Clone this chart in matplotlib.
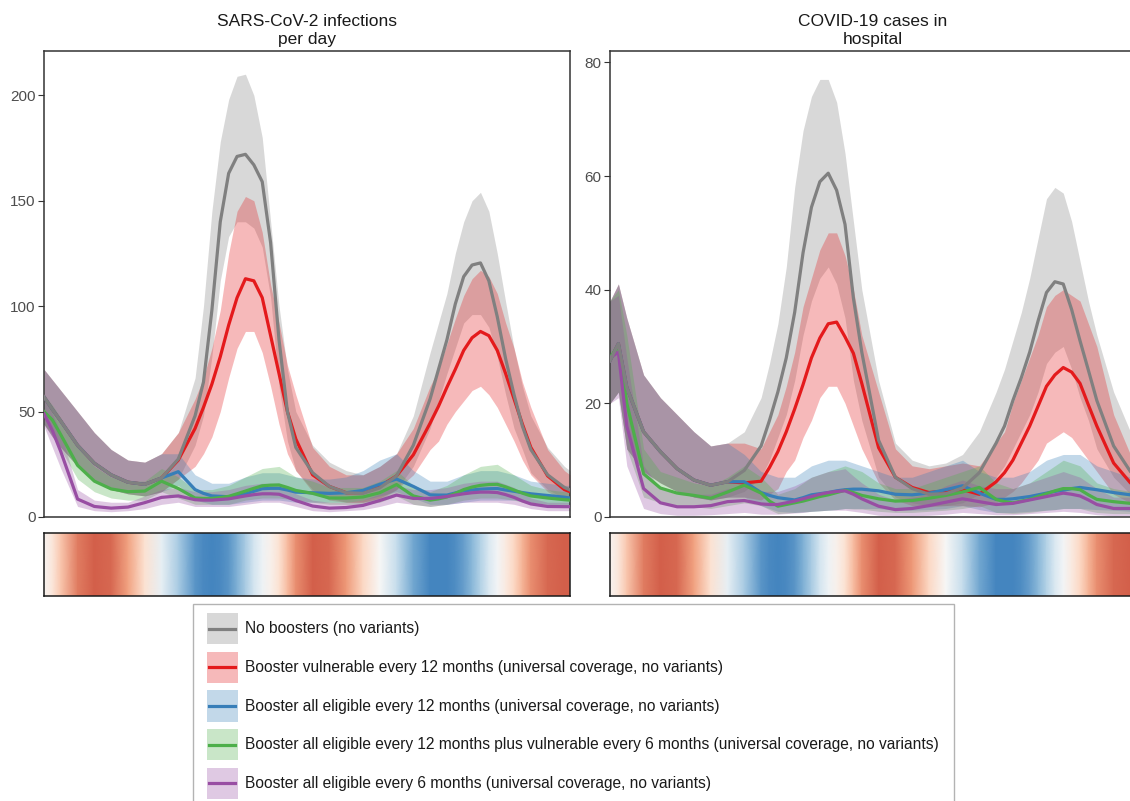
import matplotlib
matplotlib.use('Agg')
import matplotlib.pyplot as plt
from matplotlib.colors import LinearSegmentedColormap
from matplotlib.lines import Line2D
from matplotlib.patches import Rectangle
from matplotlib.legend_handler import HandlerBase

plt.rcParams['font.family'] = ['Liberation Sans', 'DejaVu Sans']

# simulation day (sampled, finer around the two waves)
day = [0, 15, 30, 60, 90, 120, 150, 180, 210, 240,
       270, 285, 300, 315, 330, 345, 360, 375, 390, 405, 420, 435, 450,
       480, 510, 540, 570, 600, 630, 660,
       690, 705, 720, 735, 750, 765, 780, 795, 810, 825, 840, 855, 870,
       900, 930, 940]

# seasonal forcing shown in the strip under each panel (-1 low .. +1 high)
season = [0.05, 0.2, 0.45, 0.85, 1.0, 0.95, 0.65, 0.25, -0.15, -0.55,
          -0.9, -0.97, -1.0, -0.97, -0.9, -0.75, -0.55, -0.33, -0.1, 0.08, 0.25, 0.5, 0.75,
          1.0, 0.95, 0.7, 0.35, 0.0, -0.4, -0.8,
          -1.0, -1.0, -1.0, -0.95, -0.85, -0.7, -0.5, -0.28, -0.05, 0.15, 0.35, 0.55, 0.75,
          0.95, 1.0, 1.0]

# ---- infections per day: median, lower, upper ----
inf_none = [57, 51, 45.5, 34, 25.5, 20, 16.5, 15.5, 18.5, 27.5,
            48, 64, 98, 140, 163, 171, 172, 167, 159, 130, 84, 50, 33,
            21, 14.5, 11.5, 11.2, 13.8, 19.5, 34,
            56, 70, 84, 101, 114, 119.5, 120.5, 112, 95, 75, 58, 43, 32,
            20, 14, 12.8]
inf_none_lo = [44, 38, 33, 24, 17, 13, 11, 10, 12, 18,
               34, 48, 76, 112, 133, 140, 140, 137, 128, 104, 62, 36, 22,
               13, 9, 7, 7, 8, 13, 24,
               42, 55, 68, 80, 92, 96, 96, 90, 76, 58, 42, 32, 21,
               13, 9, 8]
inf_none_hi = [70, 65, 60, 50, 40, 32, 27, 26, 30, 40,
               66, 100, 145, 178, 198, 209, 210, 200, 180, 140, 100, 70, 50,
               34, 26, 22, 20, 24, 30, 48,
               78, 92, 106, 125, 140, 150, 154, 145, 125, 102, 80, 62, 48,
               33, 24, 22]

inf_vul12 = [57, 51, 45.5, 34, 25.5, 20, 16.5, 15.5, 18.5, 27,
             42, 52, 63, 76, 91, 104, 113, 112, 104, 86, 68, 50, 37,
             20, 14.5, 11.5, 11.5, 14.5, 19.5, 29.5,
             44.5, 52.5, 61.5, 70, 79, 85, 88, 86, 79, 68, 56, 44, 33,
             19.5, 13, 12]
inf_vul12_lo = [44, 38, 33, 24, 17, 13, 11, 10, 12, 18,
                24, 30, 38, 50, 66, 80, 88, 88, 78, 62, 44, 30, 22,
                12, 8, 7, 7, 9, 13, 20,
                32, 36, 44, 50, 55, 60, 62, 58, 52, 44, 36, 27, 20,
                12, 8, 8]
inf_vul12_hi = [70, 65, 60, 50, 40, 32, 27, 26, 30, 40,
                56, 66, 80, 98, 125, 145, 152, 150, 135, 110, 92, 72, 58,
                33, 24, 20, 20, 24, 30, 42,
                62, 70, 82, 94, 105, 113, 117, 114, 106, 92, 80, 64, 52,
                32, 22, 20]

inf_all12 = [57, 51, 45.5, 34, 25.5, 20, 16.5, 15.5, 18.5, 21.5,
             13, 11.2, 10, 9.8, 9.6, 10.2, 11, 12.2, 13.4, 13.6, 13.6, 12.8, 11.8,
             11.5, 11.2, 11.5, 12.6, 15.5, 18, 14.5,
             10.5, 10.4, 10.4, 11.4, 12.4, 12.8, 13.2, 13.4, 13.5, 12.8, 12.2, 11.6, 11,
             10.2, 9.4, 9]
inf_all12_lo = [44, 38, 33, 24, 17, 13, 11, 10, 12, 15,
                8, 7, 6, 6, 6, 6.5, 7, 7.5, 8, 8, 8, 7.5, 7,
                7, 7, 7, 8, 10, 12, 9,
                6, 6, 6, 6.5, 7, 7.5, 8, 8, 8, 8, 8, 7.5, 7,
                6, 6, 6]
inf_all12_hi = [70, 65, 60, 50, 40, 32, 27, 26, 30, 30,
                20, 18, 16, 16, 16, 17.5, 19, 20, 21, 21, 21, 20, 19,
                18, 18, 19, 22, 27, 30, 22,
                17, 17, 17, 18.5, 20, 21, 22, 22, 22, 21, 20, 18.5, 17,
                16, 15, 15]

inf_all12_vul6 = [50, 46, 39, 24.5, 17, 13.3, 12, 12.3, 17, 13.5,
                  9, 8.8, 8.8, 9.2, 9.8, 11, 12.3, 13.6, 14.8, 15.1, 15.2, 14, 12.6,
                  11.2, 9, 9, 9.5, 11.5, 15.4, 10,
                  8, 8.6, 9.5, 11.2, 13, 14.2, 15, 15.4, 15.5, 14.3, 12.8, 11.3, 10,
                  9, 8.2, 8]
inf_all12_vul6_lo = [44, 39, 32, 18, 12, 9, 8, 8, 12, 9,
                     6, 6, 6, 6, 6, 7, 8, 8.5, 9, 9, 9, 8.5, 8,
                     7, 6, 6, 6, 7, 10, 6,
                     5, 5.5, 6, 7, 8, 8.5, 9, 9, 9, 8.5, 8, 7, 6,
                     6, 5, 5]
inf_all12_vul6_hi = [58, 53, 47, 33, 24, 19, 17, 17, 23, 19,
                     13, 13, 13, 14, 15, 17, 19, 21, 23, 23.5, 24, 21.5, 19,
                     17, 14, 14, 14, 17, 22, 15,
                     12, 13.5, 15, 17.5, 20, 22, 24, 24.5, 25, 22.5, 20, 17.5, 15,
                     13, 12, 12]

inf_all6 = [49, 41, 31, 8.5, 5, 4.2, 4.7, 6.8, 9.3, 10,
            8.2, 8, 8, 8.3, 8.6, 9.3, 10, 10.6, 11, 11, 10.8, 9.4, 7.8,
            5.2, 4.2, 4.5, 5.5, 7.8, 10.4, 8.8,
            8.8, 9.2, 9.7, 10.4, 11, 11.5, 11.8, 11.8, 11.6, 10.6, 9.3, 7.6, 6.2,
            5, 4.9, 4.9]
inf_all6_lo = [43, 33, 23, 5, 3, 2.5, 3, 4, 6, 7,
               5, 5, 5, 5, 5, 5.5, 6, 6.5, 7, 7, 7, 6, 5,
               3, 2.5, 3, 3.5, 5, 7, 6,
               5, 5.5, 6, 6.5, 7, 7, 7, 7, 7, 6.5, 6, 5, 4,
               3, 3, 3]
inf_all6_hi = [56, 49, 40, 13, 8, 7, 7, 10, 13, 14,
               12, 12, 12, 12.5, 13, 14, 15, 15.5, 16, 16, 16, 13.5, 11,
               8, 7, 7, 8, 11, 15, 13,
               13, 13.5, 14, 15, 16, 16.5, 17, 17, 17, 15.5, 14, 11.5, 9,
               7, 7, 7]

# ---- cases in hospital: median, lower, upper ----
hosp_none = [27.5, 30.5, 22.8, 15, 11.5, 8.5, 6.5, 5.6, 6.2, 8.2,
             12.5, 17, 22, 28, 36, 46.5, 54.5, 59, 60.5, 57.5, 51.5, 38.5, 29,
             13.5, 7, 5, 4, 4.1, 5.1, 7.8,
             13, 16, 20.5, 24.5, 29, 34.5, 39.5, 41.4, 41, 36.5, 31, 25.8, 20.5,
             12.5, 8, 7]
hosp_none_lo = [20, 22, 12, 8, 6, 4.5, 3.5, 3, 3.5, 4.5,
                7, 10, 14, 18, 24, 32, 38, 42, 44, 41, 35, 24, 17,
                7, 3.5, 2.5, 2, 2, 2.5, 4,
                7, 9, 12, 15, 18, 22, 27, 29, 30, 26, 21, 17, 12,
                7, 4, 3.5]
hosp_none_hi = [38, 41, 35, 25, 21, 18, 15, 12.5, 13, 15,
                21, 27, 34, 44, 58, 68, 74, 77, 77, 73, 64, 52, 40,
                24, 13, 10, 9, 9.5, 11, 15,
                22, 26, 31, 36, 42, 49, 56, 58, 57, 52, 45, 38, 32,
                22, 15, 14]

hosp_vul12 = [27.5, 30.5, 22.8, 15, 11.5, 8.5, 6.5, 5.6, 6.2, 6,
              6.3, 8.7, 11.5, 15, 19, 23.3, 28, 31.5, 34, 34.3, 31.7, 28.8, 23.5,
              12.2, 7, 5.2, 4.3, 4.6, 4.8, 4,
              6.2, 7.8, 10, 13, 16, 19.5, 23, 25, 26.3, 25.5, 23.5, 19.7, 16,
              9.5, 6, 5.5]
hosp_vul12_lo = [20, 22, 12, 8, 6, 4.5, 3.5, 3, 3.5, 3.5,
                 3, 4, 5, 8, 10, 14, 17, 21, 23, 23, 20, 16, 12,
                 6, 3, 2, 1.8, 2, 2, 1.8,
                 2.5, 3.5, 4.5, 6, 8, 10, 13, 14, 15, 14, 12, 10, 8,
                 4, 2.5, 2.5]
hosp_vul12_hi = [38, 41, 35, 25, 21, 18, 15, 12.5, 13, 13,
                 12, 15, 18, 23, 29, 37, 42, 47, 50, 50, 46, 40, 32,
                 22, 12, 9, 8.5, 9, 9.5, 9,
                 13, 15, 20, 24, 28, 32, 37, 39, 40, 39, 38, 34, 30,
                 18, 11, 10]

hosp_all12 = [27.5, 30.5, 22.8, 15, 11.5, 8.5, 6.5, 5.6, 6.2, 6.2,
              4.3, 3.8, 3.4, 3.2, 3, 3.4, 3.9, 4.1, 4.3, 4.6, 4.8, 4.9, 4.9,
              4.6, 4, 3.9, 4.2, 4.8, 5.5, 4.2,
              3.1, 3.1, 3.2, 3.4, 3.6, 3.9, 4.2, 4.5, 4.7, 5, 5.2, 5, 4.8,
              4.3, 3.9, 3.8]
hosp_all12_lo = [20, 22, 12, 8, 6, 4.5, 3.5, 3, 3.5, 3.5,
                 2, 1.5, 1, 0.9, 0.8, 0.9, 1, 1.1, 1.2, 1.3, 1.5, 1.5, 1.5,
                 1.5, 1.2, 1.2, 1.3, 1.5, 2, 1.3,
                 0.8, 0.8, 0.8, 0.9, 1, 1.1, 1.2, 1.3, 1.5, 1.5, 1.5, 1.4, 1.3,
                 1.2, 1, 1]
hosp_all12_hi = [38, 41, 35, 25, 21, 18, 15, 12.5, 13, 11,
                 8, 7.5, 7, 7, 7, 8, 9, 9.5, 10, 10, 10, 9.5, 9,
                 8, 7, 7, 8, 9, 10, 8,
                 7, 7, 7, 7.5, 8, 9, 10, 10.5, 11, 11, 11, 10, 9,
                 8, 7, 7]

hosp_all12_vul6 = [28, 30.2, 20, 7.6, 5.1, 4.2, 3.8, 3.3, 4.4, 5.6,
                   4.2, 2.8, 1.9, 2.2, 2.5, 2.8, 3.2, 3.6, 3.9, 4.3, 4.7, 4.3, 3.8,
                   3.2, 2.8, 2.9, 3.3, 3.8, 4.4, 5.2,
                   3.1, 2.7, 2.5, 2.8, 3.1, 3.6, 4.1, 4.6, 5, 5, 4.8, 3.9, 3.1,
                   2.7, 2.4, 2.4]
hosp_all12_vul6_lo = [20, 22, 12, 3.5, 2.5, 2, 1.8, 1.5, 2, 2.5,
                      2, 1.3, 0.6, 0.7, 0.8, 0.9, 1, 1.1, 1.2, 1.3, 1.5, 1.4, 1.4,
                      1, 0.8, 0.8, 1, 1.2, 1.5, 2,
                      0.8, 0.7, 0.6, 0.7, 0.8, 1, 1.2, 1.3, 1.5, 1.5, 1.5, 1.1, 0.8,
                      0.6, 0.6, 0.6]
hosp_all12_vul6_hi = [38, 40, 32, 12, 8, 7, 6, 5.5, 7, 9,
                      7, 5.5, 4, 4.5, 5, 6, 7, 7.5, 8, 8.5, 9, 8.5, 8,
                      6, 5, 5, 6, 7, 8, 9,
                      6, 5.5, 5, 5.5, 6, 7, 8, 9, 10, 9.5, 9, 7.5, 6,
                      5, 4.5, 4.5]

hosp_all6 = [28, 29, 16, 5, 2.5, 1.8, 1.8, 2, 2.7, 2.9,
             2.3, 2.2, 2.2, 2.5, 2.8, 3.2, 3.6, 4, 4.3, 4.5, 4.6, 4, 3.2,
             1.9, 1.3, 1.5, 2, 2.6, 3.2, 2.7,
             2.2, 2.3, 2.4, 2.7, 3, 3.3, 3.6, 3.9, 4.2, 4, 3.7, 3, 2.2,
             1.5, 1.5, 1.5]
hosp_all6_lo = [20, 21, 9, 1.5, 0.6, 0.3, 0.3, 0.4, 0.6, 0.8,
                0.5, 0.5, 0.5, 0.6, 0.7, 0.8, 1, 1.1, 1.2, 1.2, 1.2, 1, 0.8,
                0.3, 0.2, 0.2, 0.3, 0.5, 0.8, 0.6,
                0.4, 0.4, 0.4, 0.5, 0.6, 0.7, 0.8, 0.9, 1, 0.9, 0.8, 0.6, 0.4,
                0.2, 0.2, 0.2]
hosp_all6_hi = [38, 39, 28, 9, 5, 4, 4, 4, 5, 5.5,
                4.5, 4.5, 4.5, 5, 5.5, 6.2, 7, 7.5, 8, 8.2, 8.5, 7.2, 6,
                4, 3, 3.5, 4, 5.5, 6.5, 5.5,
                5, 5, 5, 5.5, 6, 6.5, 7, 7.5, 8, 7.5, 7, 6, 5,
                3.5, 3.5, 3.5]

scenario_labels = [
    'No boosters (no variants)',
    'Booster vulnerable every 12 months (universal coverage, no variants)',
    'Booster all eligible every 12 months (universal coverage, no variants)',
    'Booster all eligible every 12 months plus vulnerable every 6 months (universal coverage, no variants)',
    'Booster all eligible every 6 months (universal coverage, no variants)',
]
scenario_colors = ['#808080', '#E41A1C', '#377EB8', '#4DAF4A', '#984EA3']

season_cmap = LinearSegmentedColormap.from_list(
    'season', ['#4485BF', '#92BEDC', '#D4E5F0', '#F7F7F7', '#FDDBC7', '#F1A07E', '#D35F4A'])

W, H = 1130, 801


class RibbonKey(HandlerBase):
    # pale ribbon square with the median line through its middle
    def create_artists(self, legend, orig_handle, xdescent, ydescent,
                       width, height, fontsize, trans):
        col = orig_handle.get_color()
        box = Rectangle((-xdescent, -ydescent), width, height, facecolor=col,
                        alpha=0.3, edgecolor='none', transform=trans)
        yc = -ydescent + height / 2
        line = Line2D([-xdescent + 0.08 * width, -xdescent + 0.92 * width], [yc, yc],
                      color=col, lw=2.3, transform=trans)
        return [box, line]


def plot_panel(ax, strip_ax, title, series, ymax, yticks):
    # ribbons first, then median lines; the no-booster line sits on top
    for (mid, lo, hi), col in zip(series, scenario_colors):
        ax.fill_between(day, lo, hi, color=col, alpha=0.3, lw=0, zorder=1)
    for i, ((mid, lo, hi), col) in enumerate(zip(series, scenario_colors)):
        ax.plot(day, mid, color=col, lw=2.3, solid_joinstyle='round',
                zorder=6 if i == 0 else 3)
    ax.set_xlim(0, 940)
    ax.set_ylim(0, ymax)
    ax.set_yticks(yticks)
    ax.set_xticks([])
    ax.tick_params(axis='y', direction='out', length=4, width=0.8, color='#333333',
                   labelcolor='#4D4D4D', labelsize=11, pad=2)
    for sp in ax.spines.values():
        sp.set_linewidth(1.1)
        sp.set_color('#333333')
    ax.set_title(title, fontsize=12.5, color='#1A1A1A', pad=5, linespacing=1.25)

    strip_ax.pcolormesh(day, [0, 1], [season, season], cmap=season_cmap,
                        vmin=-1, vmax=1, shading='gouraud')
    strip_ax.set_xlim(0, 940)
    strip_ax.set_ylim(0, 1)
    strip_ax.set_xticks([])
    strip_ax.set_yticks([])
    for sp in strip_ax.spines.values():
        sp.set_linewidth(1.1)
        sp.set_color('#1A1A1A')


fig = plt.figure(figsize=(W / 100, H / 100), dpi=100)

panel_w = 526 / W
ax_bottom, ax_h = 1 - 517 / H, 466 / H
strip_bottom, strip_h = 1 - 596 / H, 63 / H

ax_inf = fig.add_axes([44 / W, ax_bottom, panel_w, ax_h])
strip_inf = fig.add_axes([44 / W, strip_bottom, panel_w, strip_h])
ax_hosp = fig.add_axes([610 / W, ax_bottom, panel_w, ax_h])
strip_hosp = fig.add_axes([610 / W, strip_bottom, panel_w, strip_h])

plot_panel(ax_inf, strip_inf, 'SARS-CoV-2 infections\nper day',
           [(inf_none, inf_none_lo, inf_none_hi),
            (inf_vul12, inf_vul12_lo, inf_vul12_hi),
            (inf_all12, inf_all12_lo, inf_all12_hi),
            (inf_all12_vul6, inf_all12_vul6_lo, inf_all12_vul6_hi),
            (inf_all6, inf_all6_lo, inf_all6_hi)],
           221, [0, 50, 100, 150, 200])

plot_panel(ax_hosp, strip_hosp, 'COVID-19 cases in\nhospital',
           [(hosp_none, hosp_none_lo, hosp_none_hi),
            (hosp_vul12, hosp_vul12_lo, hosp_vul12_hi),
            (hosp_all12, hosp_all12_lo, hosp_all12_hi),
            (hosp_all12_vul6, hosp_all12_vul6_lo, hosp_all12_vul6_hi),
            (hosp_all6, hosp_all6_lo, hosp_all6_hi)],
           82, [0, 20, 40, 60, 80])

handles = [Line2D([], [], color=c) for c in scenario_colors]
fig.legend(handles, scenario_labels, handler_map={Line2D: RibbonKey()},
           loc='upper left', bbox_to_anchor=(207 / W, 1 - 613 / H),
           bbox_transform=fig.transFigure, frameon=False, fontsize=11.2,
           borderpad=0, borderaxespad=0, handlelength=1.99, handleheight=2.70,
           handletextpad=0.45, labelspacing=0.49, labelcolor='#1A1A1A')
fig.patches.append(Rectangle((193 / W, -0.02), (954 - 193) / W, 1 - 604 / H + 0.02,
                             transform=fig.transFigure, fill=False,
                             edgecolor='#B3B3B3', lw=1.0))

plt.savefig('out.png', dpi=100)
